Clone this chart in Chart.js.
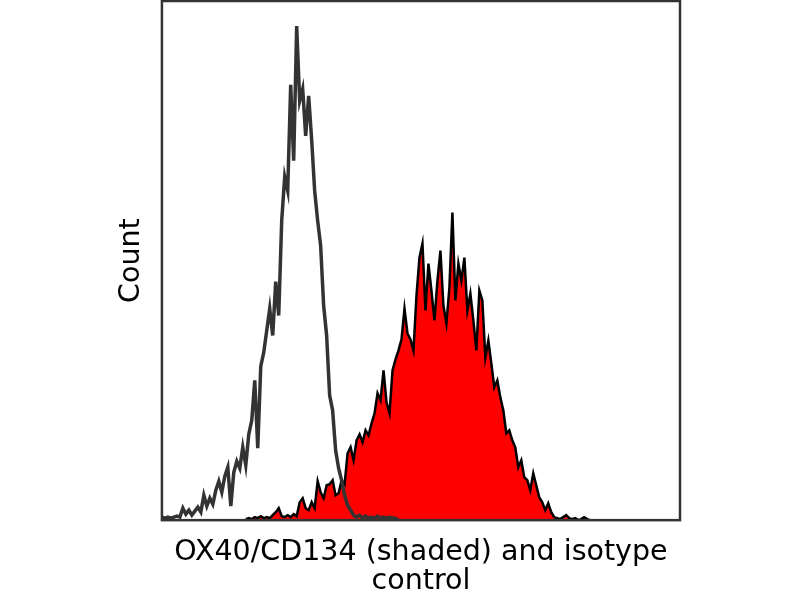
<!DOCTYPE html>
<html>
<head>
<meta charset="utf-8">
<script src="https://cdn.jsdelivr.net/npm/chart.js@4"></script>
<style>
  html, body { margin: 0; padding: 0; background: #fff; }
</style>
</head>
<body>
<canvas id="myChart" width="800" height="600"></canvas>
<script>
// Histogram data, one bin every 3 channels
const binStep = 3;

// isotype control (grey outline), first bin at channel 0
const isoStart = 0;
const isoCounts = [
  3, 2, 3, 2, 3, 4, 3, 12, 6, 10,
  5, 9, 13, 8, 25, 14, 22, 16, 30, 39,
  28, 44, 53, 14, 48, 59, 52, 73, 55, 86,
  100, 140, 72, 154, 168, 190, 212, 185, 239, 205,
  300, 344, 330, 436, 360, 495, 420, 432, 385, 425,
  381, 330, 300, 275, 215, 185, 125, 110, 70, 52,
  40, 25, 15, 10, 5, 3, 5, 2, 4, 2,
  3, 2, 4, 2, 3, 2, 3, 2, 2, 0
];

// OX40/CD134 (red shaded), first bin at channel 84
const oxStart = 84;
const oxCounts = [
  1, 2, 1, 3, 2, 4, 2, 3, 2, 5,
  8, 12, 4, 3, 5, 3, 6, 4, 18, 22,
  12, 10, 18, 12, 39, 28, 22, 35, 36, 40,
  25, 27, 40, 36, 67, 73, 60, 80, 86, 78,
  90, 85, 97, 107, 127, 120, 150, 118, 107, 150,
  161, 170, 181, 212, 187, 181, 170, 225, 263, 277,
  210, 257, 230, 200, 240, 270, 215, 197, 233, 308,
  220, 257, 240, 263, 210, 227, 200, 170, 230, 220,
  163, 180, 157, 133, 140, 123, 110, 87, 90, 80,
  73, 53, 60, 43, 40, 30, 47, 35, 23, 18,
  10, 17, 8, 3, 2, 1, 3, 5, 2, 1,
  2, 0, 1, 3, 1, 0
];

function toPoints(start, counts) {
  return counts.map((c, i) => ({ x: start + i * binStep, y: c }));
}

// plot frame on all four sides
const frame = {
  id: 'frame',
  afterDraw(chart) {
    const a = chart.chartArea, c = chart.ctx;
    c.save();
    c.strokeStyle = '#333';
    c.lineWidth = 2.5;
    c.strokeRect(a.left, a.top, a.right - a.left, a.bottom - a.top);
    c.restore();
  }
};

const titleFont = { family: 'DejaVu Sans', size: 28.5, lineHeight: 1.05 };

const ctx = document.getElementById('myChart');
new Chart(ctx, {
  type: 'line',
  data: {
    datasets: [
      {
        label: 'isotype control',
        data: toPoints(isoStart, isoCounts),
        borderColor: '#333',
        borderWidth: 3.5,
        pointRadius: 0,
        fill: false,
        tension: 0
      },
      {
        label: 'OX40/CD134',
        data: toPoints(oxStart, oxCounts),
        borderColor: '#000',
        borderWidth: 2.5,
        backgroundColor: '#ff0000',
        pointRadius: 0,
        fill: 'origin',
        tension: 0
      }
    ]
  },
  options: {
    responsive: false,
    devicePixelRatio: 1,
    animation: false,
    layout: { padding: { left: 117, right: 120, top: 1, bottom: 3 } },
    plugins: { legend: { display: false }, tooltip: { enabled: false } },
    scales: {
      x: {
        type: 'linear',
        min: 0,
        max: 519,
        grid: { display: false },
        ticks: { display: false },
        border: { display: false },
        title: {
          display: true,
          text: ['OX40/CD134 (shaded) and isotype', 'control'],
          color: '#000',
          font: titleFont,
          padding: { top: 9, bottom: 0 }
        }
      },
      y: {
        min: 0,
        max: 520,
        grid: { display: false },
        ticks: { display: false },
        border: { display: false },
        title: {
          display: true,
          text: 'Count',
          color: '#000',
          font: titleFont,
          padding: { top: 0, bottom: 7 }
        }
      }
    }
  },
  plugins: [frame]
});
</script>
</body>
</html>
